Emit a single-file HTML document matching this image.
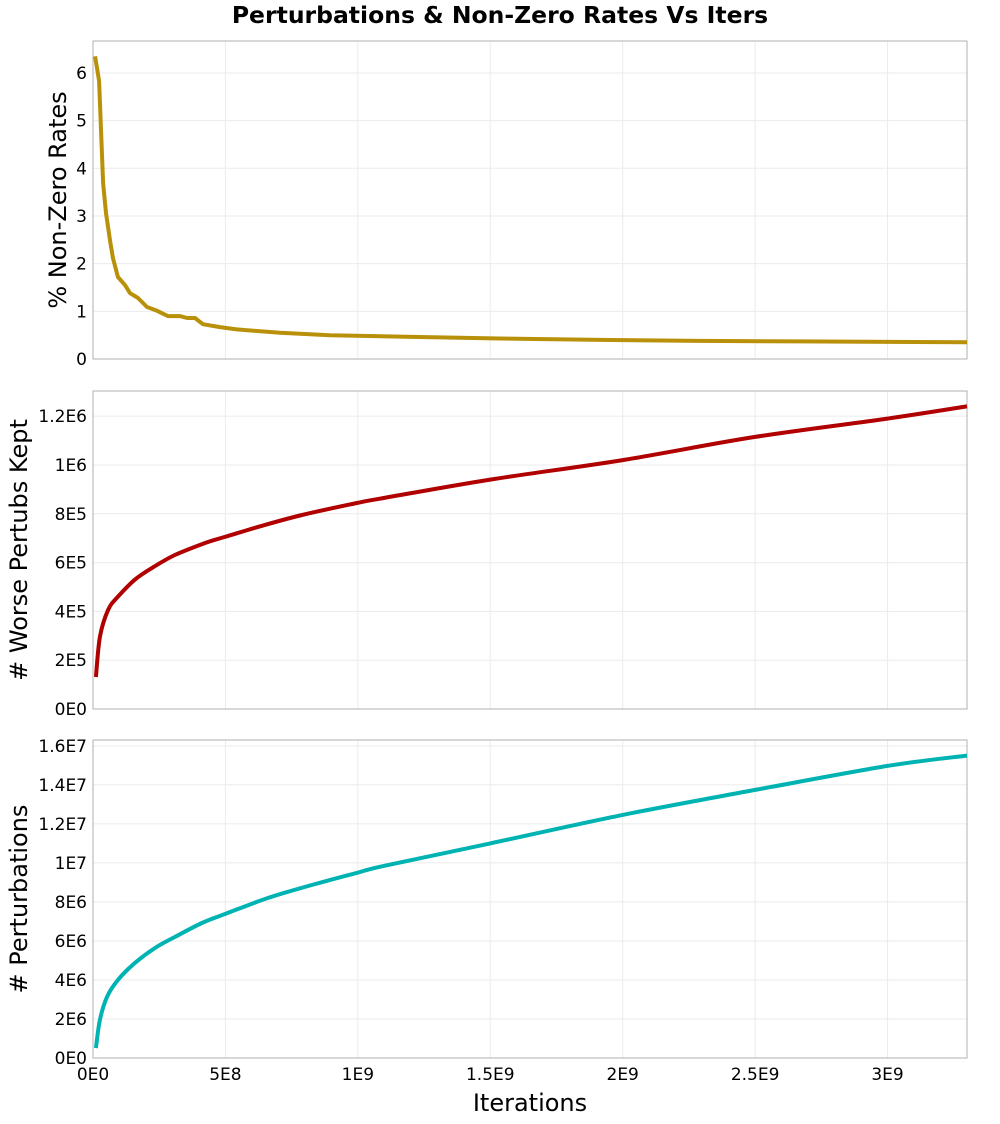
<!DOCTYPE html>
<html><head><meta charset="utf-8"><style>
body{margin:0;background:#fff;font-family:"DejaVu Sans","Liberation Sans",sans-serif}
</style></head><body>
<svg id="c" width="1000" height="1120" xmlns="http://www.w3.org/2000/svg">
<text x="500" y="23" text-anchor="middle" font-size="23.5" font-weight="bold" font-family="DejaVu Sans, Liberation Sans, sans-serif">Perturbations &amp; Non-Zero Rates Vs Iters</text>
</svg>
<script>
// x values in units of 1E8 iterations
const rateX = [0.08,0.23,0.38,0.49,0.64,0.75,0.94,1.21,1.40,1.70,2.04,2.42,2.6,2.83,3.28,3.55,3.85,4.15,4.79,5.43,7.06,8.94,11.58,15.36,19.13,22.9,26.7,33];
const rateY = [6.35,5.83,3.69,3.06,2.49,2.12,1.72,1.55,1.38,1.28,1.09,1.01,0.96,0.90,0.90,0.86,0.86,0.73,0.67,0.62,0.55,0.50,0.47,0.43,0.40,0.38,0.37,0.35];
const worseX = [0.11,0.26,0.57,0.94,1.58,2.23,3.09,4.23,4.98,6.23,7.89,9.96,11.0,15,20,25,30,33];
const worseY = [1.31,2.95,4.06,4.6,5.3,5.78,6.31,6.8,7.05,7.46,7.95,8.44,8.65,9.4,10.2,11.15,11.9,12.4]; // 1E5
const pertX = [0.11,0.26,0.53,0.94,1.58,2.34,3.09,4.11,4.98,6.6,8.26,9.96,11.0,15,20,25,30,33];
const pertY = [0.51,1.95,3.13,4.0,4.87,5.64,6.2,6.92,7.38,8.2,8.87,9.49,9.85,11.0,12.46,13.74,14.97,15.5]; // 1E6
const xTicks = [0,5,10,15,20,25,30];
const xTickLabels = ["0E0","5E8","1E9","1.5E9","2E9","2.5E9","3E9"];
const rateTicks = [0,1,2,3,4,5,6];
const rateTickLabels = ["0","1","2","3","4","5","6"];
const worseTicks = [0,2,4,6,8,10,12];
const worseTickLabels = ["0E0","2E5","4E5","6E5","8E5","1E6","1.2E6"];
const pertTicks = [0,2,4,6,8,10,12,14,16];
const pertTickLabels = ["0E0","2E6","4E6","6E6","8E6","1E7","1.2E7","1.4E7","1.6E7"];

const NS="http://www.w3.org/2000/svg";
const svg=document.getElementById('c');
const X0=93,X1=967,XMAX=33;
const sx=v=>X0+v/XMAX*(X1-X0);
function mk(tag,attrs,parent){const e=document.createElementNS(NS,tag);for(const k in attrs)e.setAttribute(k,attrs[k]);(parent||svg).appendChild(e);return e;}
function smoothPath(pts){
  let d='M'+pts[0][0].toFixed(1)+','+pts[0][1].toFixed(1);
  for(let i=0;i<pts.length-1;i++){
    const p0=pts[i-1]||pts[i],p1=pts[i],p2=pts[i+1],p3=pts[i+2]||p2;
    const c1x=p1[0]+(p2[0]-p0[0])/6,c1y=p1[1]+(p2[1]-p0[1])/6;
    const c2x=p2[0]-(p3[0]-p1[0])/6,c2y=p2[1]-(p3[1]-p1[1])/6;
    d+=` C${c1x.toFixed(1)},${c1y.toFixed(1)} ${c2x.toFixed(1)},${c2y.toFixed(1)} ${p2[0].toFixed(1)},${p2[1].toFixed(1)}`;
  }
  return d;
}

function panel(name,top,bot,ymax,ticks,labels,xs,ys,color,title,showX,smooth){
  const g=mk('g',{});
  
  
  const sy=v=>bot-v/ymax*(bot-top);
  xTicks.forEach(t=>{const l=mk('line',{x1:sx(t),x2:sx(t),y1:top,y2:bot,stroke:'#ebebeb','stroke-width':1},g);
    });
  ticks.forEach((t,i)=>{const l=mk('line',{x1:X0,x2:X1,y1:sy(t),y2:sy(t),stroke:'#ebebeb','stroke-width':1},g);
    
    const tx=mk('text',{x:X0-6,y:sy(t)+6,'text-anchor':'end','font-size':17},g);tx.textContent=labels[i];
    });
  const r=mk('rect',{x:X0,y:top,width:X1-X0,height:bot-top,fill:'none',stroke:'#b0b0b0','stroke-width':1},g);
  
  const pts=xs.map((x,i)=>[sx(x),sy(ys[i])]);
  const d=smooth?smoothPath(pts):pts.map((p,i)=>(i?'L':'M')+p[0].toFixed(1)+','+p[1].toFixed(1)).join(' ');
  const p=mk('path',{d:d,fill:'none',stroke:color,'stroke-width':4,'stroke-linejoin':'round'},g);
  
  const cy=(top+bot)/2;
  const yt=mk('text',{x:0,y:0,'text-anchor':'middle','font-size':24,transform:`translate(${name==='rate'?66:27},${cy}) rotate(-90)`},g);
  yt.textContent=title;
  if(showX){xTicks.forEach((t,i)=>{const tx=mk('text',{x:sx(t),y:bot+22,'text-anchor':'middle','font-size':17},g);tx.textContent=xTickLabels[i];
    });
    const xt=mk('text',{x:(X0+X1)/2,y:bot+53,'text-anchor':'middle','font-size':24},g);xt.textContent='Iterations';
    }
}
panel('rate',41,359,6.67,rateTicks,rateTickLabels,rateX,rateY,'#b8900a','% Non-Zero Rates',false,false);
panel('worse',391,709,13.03,worseTicks,worseTickLabels,worseX,worseY,'#b00000','# Worse Pertubs Kept',false,true);
panel('pert',740,1058,16.3,pertTicks,pertTickLabels,pertX,pertY,'#00b3b3','# Perturbations',true,true);
</script>
</body></html>
